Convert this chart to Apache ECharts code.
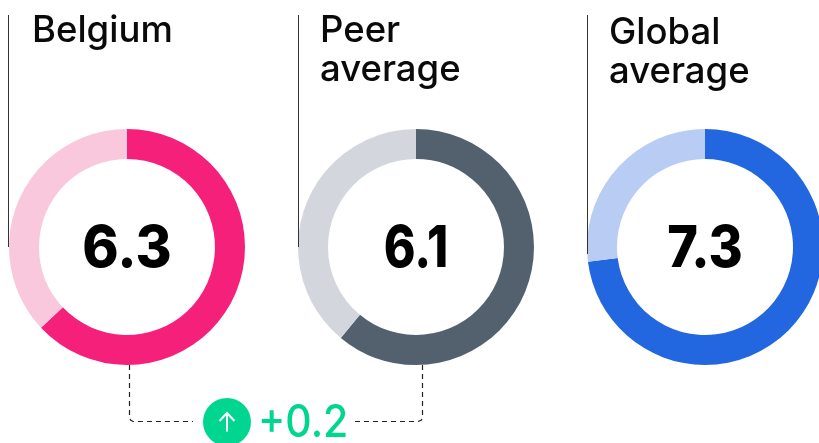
<!DOCTYPE html>
<html><head><meta charset="utf-8">
<style>html,body{margin:0;padding:0;background:#fff}#c{width:819px;height:443px}</style>
<script src="https://cdn.jsdelivr.net/npm/echarts@6/dist/echarts.min.js"></script>
</head><body><div id="c"></div>
<script>
const names = ["Belgium", "Peer\naverage", "Global\naverage"];
const scores = [6.3, 6.1, 7.3];
const scaleMax = 10;
const darkColors = ["#F5207A", "#53616F", "#2267DF"];
const lightColors = ["#F9C8DD", "#D3D7DD", "#B9CCF3"];
const delta = "+0.2";

const centersX = [127, 416, 705];
const font = "Inter";
const chart = echarts.init(document.getElementById('c'), null, {renderer:'canvas'});

const series = scores.map((v,i)=>({
  type:'pie', radius:[88,118], center:[centersX[i],247], startAngle:90, clockwise:true,
  silent:true, animation:false, label:{show:false}, labelLine:{show:false},
  itemStyle:{borderWidth:0}, padAngle:0, minShowLabelAngle:0,
  data:[{value:v,itemStyle:{color:darkColors[i]}},{value:scaleMax-v,itemStyle:{color:lightColors[i]}}]
}));

const lineEnds = [247,247,254];
const lineXs = [8.5,298.5,587.5];
const titleX = [32,320,609];
const titleY = [12,12,14];
const numberSqueeze = [0.95,0.83,0.9];
const g = [];
lineXs.forEach((x,i)=>g.push({type:'line',z:5,shape:{x1:x,y1:15,x2:x,y2:lineEnds[i]},style:{stroke:'#333',lineWidth:1}}));
names.forEach((n,i)=>g.push({type:'text',z:6,x:titleX[i],y:titleY[i],style:{text:n,font:`500 36.5px ${font}`,lineHeight:39,fill:'#0a0a0a',textAlign:'left',textVerticalAlign:'top'}}));
scores.forEach((v,i)=>g.push({type:'text',z:6,x:centersX[i],y:250,scaleX:numberSqueeze[i],style:{text:v.toFixed(1),font:`800 58px ${font}`,fill:'#000',textAlign:'center',textVerticalAlign:'middle'}}));
const dash = {stroke:'#222',lineWidth:1.2,lineDash:[5,4],fill:'none'};
g.push({type:'polyline',z:3,shape:{points:[[129.5,365],[129.5,417],[130.5,420],[133,421.5],[193,421.5]]},style:dash});
g.push({type:'polyline',z:3,shape:{points:[[422.5,365],[422.5,417],[421.5,420],[418,421.5],[355,421.5]]},style:dash});
g.push({type:'circle',z:6,shape:{cx:227,cy:422,r:24},style:{fill:'#00D68F'}});
g.push({type:'polyline',z:7,shape:{points:[[227,431.5],[227,413]]},style:{stroke:'#fff',lineWidth:2,fill:'none'}});
g.push({type:'polyline',z:7,shape:{points:[[219.5,421],[227,413],[234.5,421]]},style:{stroke:'#fff',lineWidth:2,fill:'none'}});
g.push({type:'text',z:7,x:258,y:423.5,scaleX:0.91,style:{text:delta,font:`500 45px ${font}`,fill:'#00D68F',textAlign:'left',textVerticalAlign:'middle'}});

chart.setOption({animation:false,backgroundColor:'#fff',series,graphic:{elements:g}});
</script></body></html>
